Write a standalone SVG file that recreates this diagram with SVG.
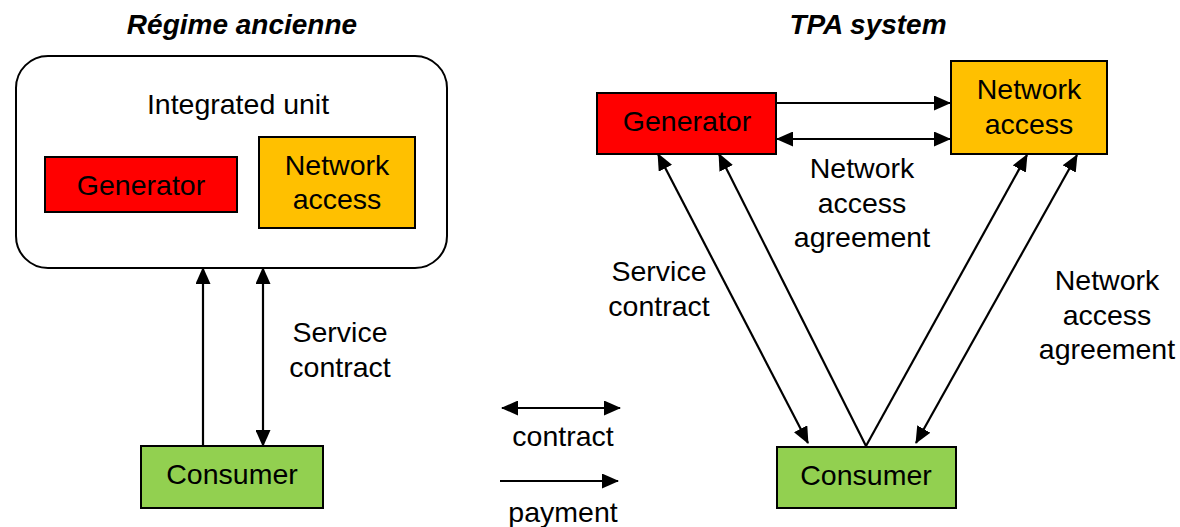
<svg xmlns="http://www.w3.org/2000/svg" width="1180" height="527" viewBox="0 0 1180 527">
  <style>
    text { font-family: "Liberation Sans", Arial, sans-serif; font-size: 28.5px; fill: #000; text-anchor: middle; }
    .title { font-size: 28px; font-weight: bold; font-style: italic; }
    .box { stroke: #000; stroke-width: 2; }
    .gen { fill: #FF0000; }
    .net { fill: #FFC000; }
    .con { fill: #92D050; }
    .unit { fill: #fff; stroke: #000; stroke-width: 2; }
    .link { stroke: #000; stroke-width: 2.2; fill: none; }
    .one { marker-end: url(#head); }
    .two { marker-start: url(#head); marker-end: url(#head); }
  </style>
  <defs>
    <marker id="head" viewBox="0 0 17 15" refX="16" refY="7.5" markerWidth="17" markerHeight="15" markerUnits="userSpaceOnUse" orient="auto-start-reverse">
      <path d="M0,0 L17,7.5 L0,15 Z" fill="#000"/>
    </marker>
  </defs>

  <rect width="1180" height="527" fill="#fff"/>

  <!-- headings -->
  <text class="title" x="242" y="34">Régime ancienne</text>
  <text class="title" x="868" y="34">TPA system</text>

  <!-- left: integrated unit -->
  <g id="integrated-unit">
    <rect class="unit" x="16" y="56" width="431" height="212" rx="32" ry="32"/>
    <text x="238" y="114">Integrated unit</text>
  </g>
  <g id="old-generator">
    <rect class="box gen" x="45" y="157" width="192" height="55"/>
    <text x="141" y="195">Generator</text>
  </g>
  <g id="old-network-access">
    <rect class="box net" x="259" y="137" width="156" height="91"/>
    <text x="337" y="175">Network</text>
    <text x="337" y="209">access</text>
  </g>
  <g id="old-consumer">
    <rect class="box con" x="141" y="446" width="182" height="62"/>
    <text x="232" y="484">Consumer</text>
  </g>

  <!-- right: TPA system -->
  <g id="tpa-generator">
    <rect class="box gen" x="597" y="93" width="179" height="61"/>
    <text x="687" y="131">Generator</text>
  </g>
  <g id="tpa-network-access">
    <rect class="box net" x="951" y="61" width="156" height="93"/>
    <text x="1029" y="99">Network</text>
    <text x="1029" y="134">access</text>
  </g>
  <g id="tpa-consumer">
    <rect class="box con" x="777" y="447" width="179" height="61"/>
    <text x="866" y="485">Consumer</text>
  </g>

  <!-- connectors -->
  <g id="connectors">
    <!-- integrated unit -->
    <line class="link one" x1="203" y1="446" x2="203" y2="268"/>
    <line class="link two" x1="263" y1="268" x2="263" y2="446"/>
    <!-- TPA -->
    <line class="link one" x1="777" y1="103" x2="950" y2="103"/>
    <line class="link two" x1="777" y1="139" x2="950" y2="139"/>
    <line class="link two" x1="658" y1="154" x2="808" y2="443"/>
    <line class="link one" x1="866" y1="446" x2="719" y2="154"/>
    <line class="link one" x1="866" y1="446" x2="1027" y2="155"/>
    <line class="link two" x1="1077" y1="155" x2="916" y2="443"/>
    <!-- legend -->
    <line class="link two" x1="502" y1="408" x2="620" y2="408"/>
    <line class="link one" x1="500" y1="481" x2="618" y2="481"/>
  </g>

  <!-- labels -->
  <g id="labels">
    <text x="340" y="342">Service</text>
    <text x="340" y="377">contract</text>
    <text x="862" y="178">Network</text>
    <text x="862" y="213">access</text>
    <text x="862" y="247">agreement</text>
    <text x="659" y="281">Service</text>
    <text x="659" y="316">contract</text>
    <text x="1107" y="290">Network</text>
    <text x="1107" y="325">access</text>
    <text x="1107" y="359">agreement</text>
    <text x="563" y="446">contract</text>
    <text x="563" y="522">payment</text>
  </g>
</svg>
